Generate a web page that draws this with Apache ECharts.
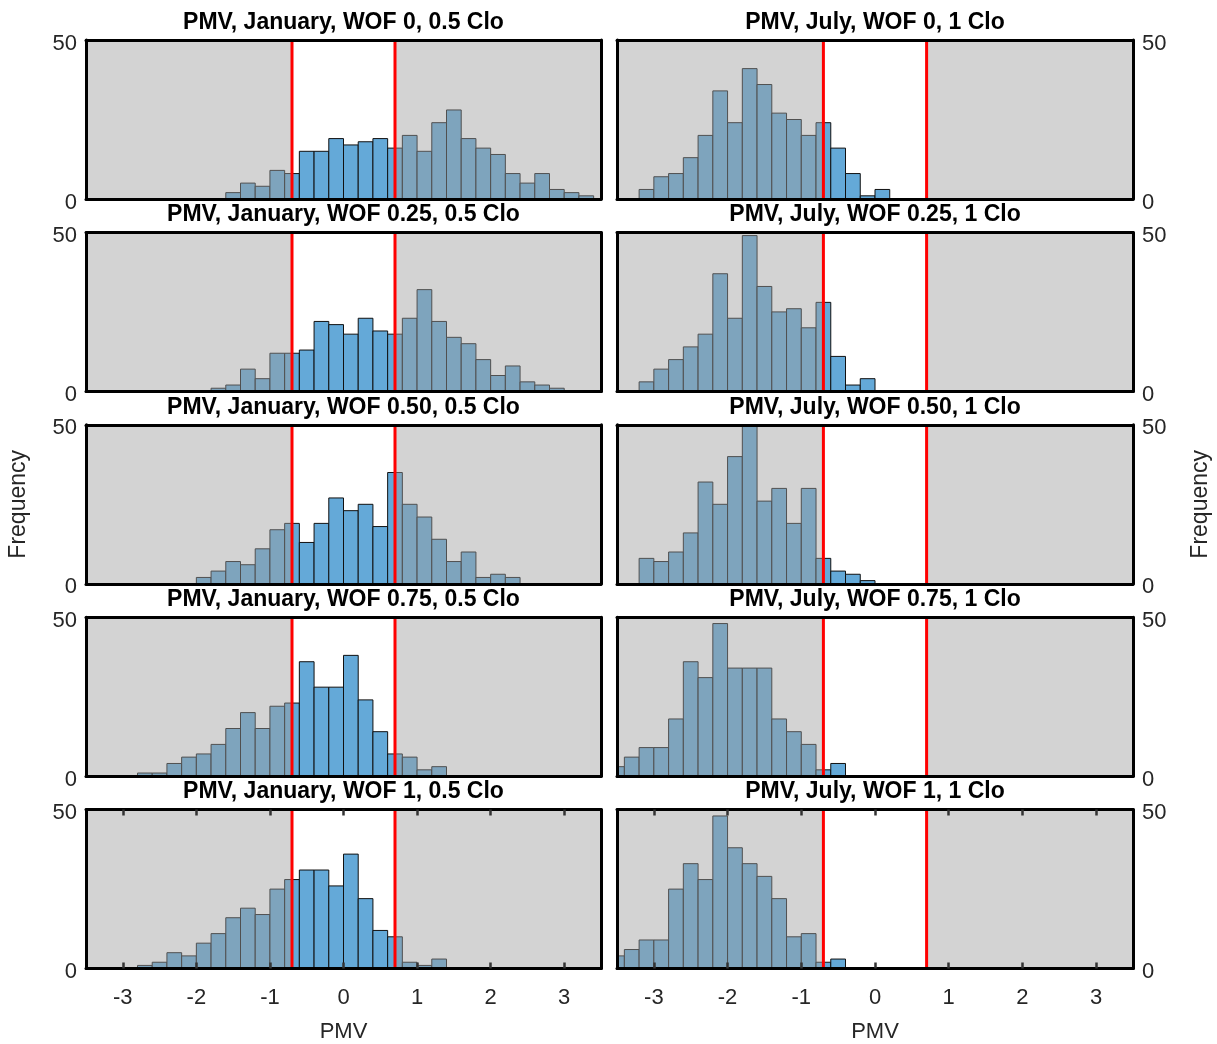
<!DOCTYPE html>
<html>
<head>
<meta charset="utf-8">
<title>PMV histograms</title>
<script src="https://cdn.jsdelivr.net/npm/echarts@6/dist/echarts.min.js"></script>
<style>
html, body { margin: 0; padding: 0; background: #fff; }
#main { width: 1217px; height: 1044px; }
</style>
</head>
<body>
<div id="main"></div>
<script>
// histogram settings
var binWidth = 0.2;
var comfortBand = [-0.7, 0.7];
var pmvRange = [-3.5, 3.5];
var pmvTicks = [-3, -2, -1, 0, 1, 2, 3];
var freqMax = 50;

var janTitles = ['PMV, January, WOF 0, 0.5 Clo', 'PMV, January, WOF 0.25, 0.5 Clo',
	'PMV, January, WOF 0.50, 0.5 Clo', 'PMV, January, WOF 0.75, 0.5 Clo', 'PMV, January, WOF 1, 0.5 Clo'];
var julTitles = ['PMV, July, WOF 0, 1 Clo', 'PMV, July, WOF 0.25, 1 Clo',
	'PMV, July, WOF 0.50, 1 Clo', 'PMV, July, WOF 0.75, 1 Clo', 'PMV, July, WOF 1, 1 Clo'];

// left edge of the first bin in each panel
var janStarts = [-1.6, -1.8, -2.0, -2.8, -2.8];
var julStarts = [-3.2, -3.2, -3.2, -3.6, -3.6];

// counts per bin, January (0.5 clo)
var janWof0 = [2, 5, 4, 9, 8, 15, 15, 19, 17, 18, 19, 16, 20, 15, 24, 28, 19, 16, 14, 8, 5, 8, 3, 2, 1];
var janWof025 = [1, 2, 7, 4, 12, 12, 13, 22, 21, 18, 23, 19, 18, 23, 32, 22, 17, 15, 10, 5, 8, 3, 2, 1];
var janWof050 = [2, 4, 7, 6, 11, 17, 19, 13, 19, 27, 23, 25, 18, 35, 25, 21, 14, 7, 10, 2, 3, 2];
var janWof075 = [1, 1, 4, 6, 7, 10, 15, 20, 15, 22, 23, 36, 28, 28, 38, 24, 14, 7, 6, 2, 3];
var janWof1 = [1, 2, 5, 4, 8, 11, 16, 19, 17, 25, 28, 31, 31, 26, 36, 22, 12, 10, 2, 1, 3];

// counts per bin, July (1 clo)
var julWof0 = [3, 7, 8, 13, 20, 34, 24, 41, 36, 27, 25, 20, 24, 16, 8, 1, 3];
var julWof025 = [3, 7, 10, 14, 18, 37, 23, 49, 33, 25, 26, 20, 28, 11, 2, 4];
var julWof050 = [8, 7, 10, 16, 32, 25, 40, 50, 26, 30, 19, 30, 8, 4, 3, 1];
var julWof075 = [3, 6, 9, 9, 18, 36, 31, 48, 34, 34, 34, 18, 14, 10, 2, 4];
var julWof1 = [4, 6, 9, 9, 25, 33, 28, 48, 38, 33, 29, 22, 10, 11, 2, 3];

var janCounts = [janWof0, janWof025, janWof050, janWof075, janWof1];
var julCounts = [julWof0, julWof025, julWof050, julWof075, julWof1];

var hist = {
	labelFont : '"Liberation Sans", Arial, sans-serif',
	colLeft : [86, 617],
	colWidth : [515, 516],
	rowTop : [40, 232.4, 424.8, 617.2, 809.6],
	rowHeight : 159,

	init : function() {
		this.chart = echarts.init(document.getElementById('main'));
		this.chart.setOption(this.buildOption());
	},

	renderBar : function(params, api) {
		var x0 = api.value(0);
		var p0 = api.coord([x0, api.value(1)]);
		var p1 = api.coord([x0 + binWidth, 0]);
		return {
			type : 'rect',
			shape : { x : p0[0], y : p0[1], width : p1[0] - p0[0], height : p1[1] - p0[1] },
			style : { fill : '#64a9d8', stroke : '#111', lineWidth : 1 }
		};
	},

	// translucent grey over everything outside the comfort band
	renderShade : function(params, api) {
		var p0 = api.coord([api.value(0), freqMax]);
		var p1 = api.coord([api.value(1), 0]);
		return {
			type : 'rect',
			shape : { x : p0[0], y : p0[1], width : p1[0] - p0[0], height : p1[1] - p0[1] },
			style : { fill : 'rgba(157,157,157,0.45)' }
		};
	},

	renderLimit : function(params, api) {
		var p0 = api.coord([api.value(0), 0]);
		var p1 = api.coord([api.value(0), freqMax]);
		return {
			type : 'line',
			shape : { x1 : p0[0], y1 : p0[1], x2 : p1[0], y2 : p1[1] },
			style : { stroke : '#ff0000', lineWidth : 3 }
		};
	},

	buildOption : function() {
		var option = {
			animation : false,
			backgroundColor : '#fff',
			title : [], grid : [], xAxis : [], yAxis : [], series : []
		};
		var font = this.labelFont;
		var line = { show : true, onZero : false, lineStyle : { color : '#000', width : 3 } };
		var shadeData = [[pmvRange[0], comfortBand[0]], [comfortBand[1], pmvRange[1]]];
		var limitData = comfortBand.map(function(v) { return [v]; });

		for (var col = 0; col < 2; col++) {
			for (var row = 0; row < 5; row++) {
				var g = option.grid.length;
				var bottomRow = row === 4;
				var titles = col === 0 ? janTitles : julTitles;
				var start = col === 0 ? janStarts[row] : julStarts[row];
				var counts = col === 0 ? janCounts[row] : julCounts[row];

				option.grid.push({
					left : this.colLeft[col], top : this.rowTop[row],
					width : this.colWidth[col], height : this.rowHeight
				});
				option.title.push({
					text : titles[row],
					left : this.colLeft[col] + this.colWidth[col] / 2,
					top : this.rowTop[row] - 29,
					textAlign : 'center',
					padding : 0,
					textStyle : { fontFamily : '"Liberation Sans", Arial, sans-serif', fontSize : 23, fontWeight : 'bold', color : '#000' }
				});

				var tick = {
					show : bottomRow, inside : true, length : 6, customValues : pmvTicks,
					lineStyle : { color : '#333', width : 2.5 }
				};
				option.xAxis.push({
					gridIndex : g, type : 'value', min : pmvRange[0], max : pmvRange[1], z : 10,
					axisLine : line, axisTick : tick, splitLine : { show : false },
					axisLabel : {
						show : bottomRow, customValues : pmvTicks, margin : 18,
						fontFamily : font, fontSize : 22, color : '#262626'
					},
					name : bottomRow ? 'PMV' : '', nameLocation : 'middle', nameGap : 52,
					nameTextStyle : { fontFamily : font, fontSize : 22, color : '#262626' }
				});
				option.xAxis.push({
					gridIndex : g, type : 'value', position : 'top', min : pmvRange[0], max : pmvRange[1], z : 10,
					axisLine : line, axisTick : tick, axisLabel : { show : false }, splitLine : { show : false }
				});

				var side = col === 0 ? 'left' : 'right';
				option.yAxis.push({
					gridIndex : g, type : 'value', position : side, min : 0, max : freqMax, interval : 50, z : 10,
					axisLine : line, axisTick : { show : false }, splitLine : { show : false },
					axisLabel : {
						margin : 9, formatter : '{v|{value}}',
						rich : { v : { padding : [7, 0, 0, 0], fontFamily : font, fontSize : 22, color : '#262626' } }
					},
					name : row === 2 ? 'Frequency' : '', nameLocation : 'middle', nameRotate : 90, nameGap : 56,
					nameTextStyle : { fontFamily : font, fontSize : 23, color : '#262626' }
				});
				option.yAxis.push({
					gridIndex : g, type : 'value', position : col === 0 ? 'right' : 'left', min : 0, max : freqMax, z : 10,
					axisLine : line, axisTick : { show : false }, axisLabel : { show : false }, splitLine : { show : false }
				});

				var bars = counts.map(function(c, k) { return [start + k * binWidth, c]; });
				option.series.push({
					type : 'custom', xAxisIndex : 2 * g, yAxisIndex : 2 * g, z : 2, clip : true,
					renderItem : this.renderBar, data : bars
				});
				option.series.push({
					type : 'custom', xAxisIndex : 2 * g, yAxisIndex : 2 * g, z : 3, silent : true,
					renderItem : this.renderShade, data : shadeData
				});
				option.series.push({
					type : 'custom', xAxisIndex : 2 * g, yAxisIndex : 2 * g, z : 4, silent : true,
					renderItem : this.renderLimit, data : limitData
				});
			}
		}
		return option;
	}
};

hist.init();
</script>
</body>
</html>
